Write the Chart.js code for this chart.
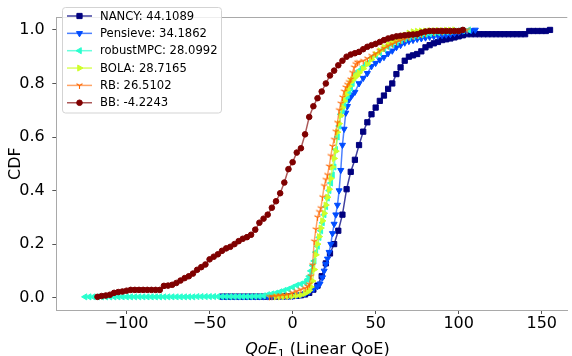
<!DOCTYPE html>
<html><head><meta charset="utf-8">
<script src="https://cdn.jsdelivr.net/npm/chart.js@4.4.0/dist/chart.umd.min.js"></script>
<style>html,body{margin:0;padding:0;background:#fff;}#wrap{width:572px;height:356px;position:relative;overflow:hidden;}</style>
</head><body><div id="wrap"><canvas id="c" width="572" height="356"></canvas></div>
<script>
const seriesLabels = ['NANCY: 44.1089','Pensieve: 34.1862','robustMPC: 28.0992','BOLA: 28.7165','RB: 26.5102','BB: -4.2243'];
const xTicks = [-100,-50,0,50,100,150];
const yTicks = [0,0.2,0.4,0.6,0.8,1.0];
const xTitleParts = ['QoE','1',' (Linear QoE)'];
const yTitle = 'CDF';

const nancy = [[-42.5,0.004],[-40,0.004],[-37.5,0.004],[-35,0.004],[-32.5,0.004],[-30,0.004],[-27.5,0.004],[-25,0.004],[-22.5,0.004],[-20,0.004],[-17.5,0.004],[-15,0.004],[-12.5,0.004],[-10,0.004],[-7.5,0.005],[-5,0.005],[-2.5,0.005],
[0,0.006],[2.5,0.007],[5,0.009],[7.5,0.012],[10,0.018],[12.5,0.03],[15,0.045],[17.5,0.08],[20,0.128],[22.5,0.165],[25,0.2],[27.5,0.25],[30,0.31],[32.5,0.405],[35,0.47],[37.5,0.515],[40,0.57],[42.5,0.62],[45,0.655],[47.5,0.685],[50,0.71],[52.5,0.735],[55,0.755],[57.5,0.78],[60,0.8],[62.5,0.835],[65,0.86],[67.5,0.885],[70,0.9],[72.5,0.905],[75,0.91],[77.5,0.92],[80,0.935],[82.5,0.943],[85,0.95],[87.5,0.955],[90,0.962],[92.5,0.965],[95,0.968],[97.5,0.972],[100,0.976],[102.5,0.98],[105,0.984],
[107.5,0.984],[110,0.984],[112.5,0.984],[115,0.984],[117.5,0.984],[120,0.984],[122.5,0.984],[125,0.984],[127.5,0.984],[130,0.984],[132.5,0.984],[135,0.984],[137.5,0.984],[140,0.984],[142.5,0.996],[145,0.996],[147.5,0.996],[150,0.996],[152.5,0.996],[155,1.0]];

const pensieve = [[-42.5,0.004],[-40,0.004],[-37.5,0.004],[-35,0.004],[-32.5,0.004],[-30,0.004],[-27.5,0.004],[-25,0.004],[-22.5,0.004],[-20,0.004],[-17.5,0.004],[-15,0.004],[-12.5,0.004],[-10,0.005],[-7.5,0.005],[-5,0.005],[-2.5,0.006],[0,0.006],[2.5,0.008],[5,0.011],[7.5,0.015],[10,0.022],[12.5,0.032],[15,0.042],[16.5,0.052],[18,0.075],[19,0.1],[20,0.125],[21,0.145],[22,0.17],[23,0.2],[24,0.24],[25,0.275],[26,0.31],[27,0.346],[28,0.4],[29,0.476],[30,0.57],[31,0.63],[32,0.69],[33,0.715],[34,0.74],[35,0.75],[36,0.758],[37.5,0.768],[40,0.8],[42.5,0.82],[45,0.838],[47.5,0.864],[50,0.876],[52.5,0.889],[55,0.898],[57.5,0.912],[60,0.922],[62.5,0.935],[65,0.943],[67.5,0.952],[70,0.958],[72.5,0.962],[75,0.966],[77.5,0.968],[80,0.971],[82.5,0.974],[85,0.976],[87.5,0.978],[90,0.98],[92.5,0.982],[95,0.984],[97.5,0.988],[100,0.992],[102.5,0.996],[105,0.997],[107.5,0.998],[110,1.0]];

const robustMPC = [[-125,0.003],[-122.5,0.003],[-120,0.003],[-117.5,0.003],[-115,0.003],[-112.5,0.003],[-110,0.003],[-107.5,0.003],[-105,0.003],[-102.5,0.003],[-100,0.003],[-97.5,0.003],[-95,0.003],[-92.5,0.003],[-90,0.003],[-87.5,0.003],[-85,0.003],[-82.5,0.003],[-80,0.003],[-77.5,0.003],[-75,0.003],[-72.5,0.003],[-70,0.003],[-67.5,0.003],[-65,0.003],[-62.5,0.003],[-60,0.003],[-57.5,0.004],[-55,0.004],[-52.5,0.004],[-50,0.004],[-47.5,0.004],[-45,0.004],[-42.5,0.004],[-40,0.004],[-37.5,0.004],[-35,0.004],[-32.5,0.004],[-30,0.004],[-27.5,0.004],[-25,0.004],[-22.5,0.005],[-20,0.005],
[-17.5,0.007],[-15,0.011],[-12.5,0.014],[-10,0.017],[-7.5,0.022],[-5,0.027],[-2.5,0.032],[0,0.039],[2.5,0.046],[5,0.051],[7.5,0.057],[9,0.068],[10,0.08],[11,0.1],[12,0.12],[13,0.137],[14,0.17],[15,0.192],[16,0.225],[17,0.25],[18,0.28],[19,0.31],[20,0.34],[21,0.372],[22,0.4],[23,0.428],[24,0.458],[25,0.488],[26,0.553],[27,0.6],[28,0.641],[29,0.685],[30,0.7],[31,0.72],[32,0.74],[33,0.755],[34,0.77],[35,0.783],[36,0.8],[37,0.82],[38,0.836],[40,0.848],[42.5,0.862],[45,0.876],[47.5,0.895],[50,0.905],[52.5,0.915],[55,0.928],[57.5,0.937],[60,0.945],[62.5,0.953],[65,0.96],[67.5,0.966],[70,0.971],[72.5,0.975],[75,0.978],[77.5,0.981],[80,0.984],[82.5,0.986],[85,0.988],[87.5,0.99],[90,0.992],[92.5,0.993],[95,0.995],[97.5,0.996],[100,0.997],[102.5,0.998],[106,1.0]];

const bola = [[-10,0.003],[-7.5,0.003],[-5,0.004],[-2.5,0.005],[0,0.006],[2.5,0.008],[5,0.01],[7.5,0.016],[9,0.021],[10,0.027],[11,0.04],[12,0.062],[13,0.105],[14,0.16],[15,0.2],[16,0.228],[17,0.26],[18,0.287],[19,0.315],[20,0.346],[21,0.375],[22,0.405],[23,0.445],[24,0.488],[25,0.52],[26,0.547],[27,0.618],[28,0.65],[29,0.68],[30,0.71],[31,0.735],[32,0.758],[33,0.777],[34,0.79],[35,0.805],[36,0.813],[37,0.82],[38,0.826],[39,0.83],[40,0.84],[42.5,0.855],[45,0.872],[47.5,0.89],[50,0.908],[52.5,0.922],[55,0.935],[57.5,0.946],[60,0.955],[62.5,0.965],[65,0.972],[67.5,0.98],[70,0.988],[72.5,0.993],[75,0.995],[77.5,0.996],[80,0.996],[82.5,0.997],[85,0.997],[87.5,0.998],[90,0.998],[92.5,0.999],[95,0.999],[97.5,1.0]];

const rb = [[-14,0.003],[-12.5,0.004],[-10,0.006],[-7.5,0.008],[-5,0.009],[-2.5,0.012],[0,0.018],[2.5,0.024],[5,0.03],[7.5,0.035],[9,0.042],[10,0.05],[11,0.08],[12,0.121],[13,0.21],[14,0.255],[15,0.3],[16,0.32],[17,0.334],[18,0.375],[19,0.417],[20,0.44],[21,0.458],[22,0.49],[23,0.529],[24,0.565],[25,0.59],[26,0.62],[27,0.653],[28,0.7],[29,0.725],[30,0.748],[31,0.77],[32,0.785],[33,0.795],[34,0.805],[35,0.815],[36,0.84],[37,0.86],[38,0.872],[39,0.878],[40,0.88],[42.5,0.884],[45,0.893],[47.5,0.903],[50,0.911],[52.5,0.922],[55,0.931],[57.5,0.94],[60,0.947],[62.5,0.955],[65,0.96],[67.5,0.966],[70,0.972],[72.5,0.976],[75,0.98],[77.5,0.983],[80,0.986],[85,0.99],[90,0.993],[95,0.995],[100,0.997],[105,1.0]];

const bb = [[-117.5,0.003],[-115,0.006],[-112.5,0.008],[-110,0.011],[-107.5,0.018],[-105,0.021],[-102.5,0.023],[-100,0.026],[-97.5,0.029],[-95,0.029],[-92.5,0.029],[-90,0.029],[-87.5,0.029],[-85,0.029],[-82.5,0.029],[-80,0.029],[-77.5,0.044],[-75,0.045],[-72.5,0.048],[-70,0.055],[-67.5,0.064],[-65,0.073],[-62.5,0.08],[-60,0.09],[-57.5,0.104],[-55,0.114],[-52.5,0.124],[-50,0.143],[-47.5,0.153],[-45,0.162],[-42.5,0.175],[-40,0.184],[-37.5,0.19],[-35,0.2],[-32.5,0.211],[-30,0.22],[-27.5,0.226],[-25,0.235],[-22.5,0.254],[-20,0.28],[-17.5,0.295],[-15,0.31],[-12.5,0.336],[-10,0.36],[-7.5,0.39],[-5,0.43],[-2.5,0.48],[0,0.506],[2.5,0.542],[5,0.558],[7.5,0.61],[10,0.675],[12.5,0.715],[15,0.745],[17.5,0.77],[20,0.8],[22.5,0.83],[25,0.848],[27.5,0.868],[30,0.885],[32.5,0.9],[35,0.908],[37.5,0.913],[40,0.918],[42.5,0.928],[45,0.937],[47.5,0.943],[50,0.948],[52.5,0.955],[55,0.962],[57.5,0.968],[60,0.972],[62.5,0.976],[65,0.978],[67.5,0.98],[70,0.982],[72.5,0.983],[75,0.984],[77.5,0.99],[80,0.994],[82.5,0.996],[85,0.996],[87.5,0.996],[90,0.996],[92.5,0.996],[95,0.996],[97.5,0.996],[100,0.996],[102.5,1.0]];

const seriesData = [nancy, pensieve, robustMPC, bola, rb, bb];
const colors = ['#00007f','#004cff','#29ffce','#ceff29','#ff6800','#7f0000'];
const lineColors = ['rgba(0,0,127,0.75)','rgba(0,76,255,0.7)','rgba(41,255,206,0.7)','rgba(206,255,41,0.75)','rgba(255,104,0,0.6)','rgba(127,0,0,0.65)'];

function triDown(color){
  const c=document.createElement('canvas'); c.width=9; c.height=9;
  const g=c.getContext('2d'); g.strokeStyle=color; g.lineWidth=1.1;
  const cx=4.5, cy=4.5, r=3.5;
  g.beginPath();
  g.moveTo(cx,cy); g.lineTo(cx,cy+r);
  g.moveTo(cx,cy); g.lineTo(cx-r*0.866,cy-r*0.5);
  g.moveTo(cx,cy); g.lineTo(cx+r*0.866,cy-r*0.5);
  g.stroke(); return c;
}
const markers = [
  {style:'rect', radius:3.7, rotation:0},
  {style:'triangle', radius:3.5, rotation:180},
  {style:'triangle', radius:3.5, rotation:-90},
  {style:'triangle', radius:3.5, rotation:90},
  {style:triDown('#ff6800'), radius:3, rotation:0},
  {style:'circle', radius:2.8, rotation:0}
];

const datasets = seriesData.map((arr,i)=>({
  label: seriesLabels[i],
  data: arr.map(p=>({x:p[0], y:p[1]})),
  borderColor: lineColors[i],
  backgroundColor: colors[i],
  borderWidth: 1.5,
  pointStyle: markers[i].style,
  pointRadius: markers[i].radius,
  pointRotation: markers[i].rotation,
  pointBackgroundColor: colors[i],
  pointBorderColor: colors[i],
  pointBorderWidth: 1,
  pointHoverRadius: markers[i].radius,
  tension: 0,
  fill: false,
  order: seriesData.length - i
}));

const FONT = '"DejaVu Sans", "Liberation Sans", sans-serif';
const SPINE = '#a9a9a9';

const extras = {
  id:'extras',
  afterDraw(chart){
    const ctx = chart.ctx, a = chart.chartArea;
    ctx.save();
    ctx.strokeStyle = SPINE; ctx.lineWidth = 1;
    ctx.beginPath(); ctx.moveTo(a.left, Math.round(a.top)+0.5); ctx.lineTo(a.right, Math.round(a.top)+0.5); ctx.stroke();
    const baseY = 353.5;
    ctx.fillStyle = '#000'; ctx.textBaseline = 'alphabetic'; ctx.textAlign = 'left';
    ctx.font = 'oblique 16px ' + FONT;
    const w1 = ctx.measureText(xTitleParts[0]).width;
    ctx.font = '11.2px ' + FONT;
    const w2 = ctx.measureText(xTitleParts[1]).width;
    ctx.font = '16px ' + FONT;
    const w3 = ctx.measureText(xTitleParts[2]).width;
    const cx = (a.left + 578)/2;
    let x0 = cx - (w1+w2+w3)/2;
    ctx.font = 'oblique 16px ' + FONT; ctx.fillText(xTitleParts[0], x0, baseY);
    ctx.font = '11.2px ' + FONT; ctx.fillText(xTitleParts[1], x0 + w1, baseY + 3.5);
    ctx.font = '16px ' + FONT; ctx.fillText(xTitleParts[2], x0 + w1 + w2, baseY);
    const bx=62.5, by=7.5, bw=159, bh=105.5, r=3;
    ctx.beginPath();
    ctx.moveTo(bx+r,by); ctx.lineTo(bx+bw-r,by); ctx.quadraticCurveTo(bx+bw,by,bx+bw,by+r);
    ctx.lineTo(bx+bw,by+bh-r); ctx.quadraticCurveTo(bx+bw,by+bh,bx+bw-r,by+bh);
    ctx.lineTo(bx+r,by+bh); ctx.quadraticCurveTo(bx,by+bh,bx,by+bh-r);
    ctx.lineTo(bx,by+r); ctx.quadraticCurveTo(bx,by,bx+r,by); ctx.closePath();
    ctx.fillStyle = 'rgba(255,255,255,0.8)'; ctx.fill();
    ctx.strokeStyle = '#d3d3d3'; ctx.lineWidth = 1; ctx.stroke();
    chart.data.datasets.forEach((ds,i)=>{
      const y = 16 + i*17.35;
      ctx.strokeStyle = ds.borderColor; ctx.lineWidth = 1.5;
      ctx.beginPath(); ctx.moveTo(67,y); ctx.lineTo(92,y); ctx.stroke();
      ctx.fillStyle = ds.pointBackgroundColor; ctx.strokeStyle = ds.pointBorderColor; ctx.lineWidth = 1;
      Chart.helpers.drawPoint(ctx, {pointStyle: ds.pointStyle, radius: ds.pointRadius, rotation: ds.pointRotation, borderWidth: 1}, 79.5, y);
      ctx.fillStyle = '#000'; ctx.font = '11.6px ' + FONT; ctx.textBaseline = 'middle'; ctx.textAlign='left';
      ctx.fillText(ds.label, 100, y+0.5);
    });
    ctx.restore();
  }
};

new Chart(document.getElementById('c'), {
  type: 'line',
  data: { datasets },
  options: {
    responsive: false,
    animation: false,
    devicePixelRatio: 1,
    layout: { padding: { top: 1.5, left: 0, right: 0, bottom: 0 } },
    plugins: { legend: { display: false }, tooltip: { enabled: false } },
    scales: {
      x: {
        type: 'linear', min: -142, max: 165.4,
        afterFit(s){ s.height = 46; },
        afterBuildTicks(s){ s.ticks = xTicks.map(v=>({value:v})); },
        ticks: { callback: v => v < 0 ? '\u2212' + Math.abs(v) : String(v), font: { family: FONT, size: 16 }, color: '#000', padding: 0, maxRotation: 0, autoSkip: false },
        grid: { drawOnChartArea: false, drawTicks: true, tickLength: 4, tickColor: '#555', tickWidth: 1 },
        border: { display: true, color: SPINE, width: 1 }
      },
      y: {
        type: 'linear', min: -0.0461, max: 1.0479,
        afterFit(s){ s.width = 56.8; },
        afterBuildTicks(s){ s.ticks = yTicks.map(v=>({value:v})); },
        ticks: { callback: v => Number(v).toFixed(1), font: { family: FONT, size: 16 }, color: '#000', padding: 7.5 },
        grid: { drawOnChartArea: false, drawTicks: true, tickLength: 4.5, tickColor: '#555', tickWidth: 1 },
        border: { display: true, color: SPINE, width: 1 },
        title: { display: true, text: yTitle, font: { family: FONT, size: 16 }, color: '#000', padding: { top: 6.4, bottom: 0 } }
      }
    }
  },
  plugins: [extras]
});
</script></body></html>
